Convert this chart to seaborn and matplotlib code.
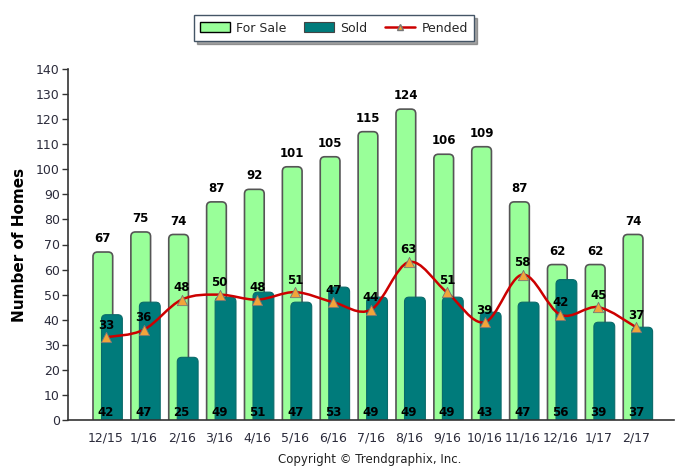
import numpy as np
import pandas as pd
import matplotlib
matplotlib.use("Agg")
import matplotlib.pyplot as plt
import seaborn as sns
from matplotlib.path import Path
from matplotlib.patches import PathPatch, Patch, FancyBboxPatch
from matplotlib.lines import Line2D

months = ["12/15", "1/16", "2/16", "3/16", "4/16", "5/16", "6/16", "7/16",
          "8/16", "9/16", "10/16", "11/16", "12/16", "1/17", "2/17"]
for_sale = [67, 75, 74, 87, 92, 101, 105, 115, 124, 106, 109, 87, 62, 62, 74]
sold = [42, 47, 25, 49, 51, 47, 53, 49, 49, 49, 43, 47, 56, 39, 37]
pended = [33, 36, 48, 50, 48, 51, 47, 44, 63, 51, 39, 58, 42, 45, 37]

sns.set_theme(style="white")
plt.rcParams['font.family'] = ['DejaVu Sans']

GREEN = "#99FF99"
TEAL = "#007B7B"
RED = "#CC0000"
ORANGE = "#F2A43A"
TXT = "#2B2B3B"

fig = plt.figure(figsize=(6.88, 4.72), dpi=100)
ax = fig.add_axes([68/688, 1-420/472, (674-68)/688, (420-69)/472])

df = pd.DataFrame({"month": months, "for_sale": for_sale, "sold": sold, "pended": pended})
df["pos"] = np.arange(len(months))

sns.barplot(data=df, x="month", y="for_sale", ax=ax, color=GREEN, width=0.52,
            edgecolor="#555555", linewidth=1.2, saturation=1)
n_fs = len(ax.patches)
sns.barplot(data=df, x="month", y="sold", ax=ax, color=TEAL, width=0.55,
            edgecolor="#0A6A6A", linewidth=0.8, saturation=1)

# round the tops of the bars
aspect = (140 / 351) / (1 / 37.9)
bars = list(ax.patches)
for k, p in enumerate(bars):
    shift = -0.08 if k < n_fs else 0.16
    x, w, h = p.get_x() + shift, p.get_width(), p.get_height()
    fb = FancyBboxPatch((x, -4), w, h + 4,
                        boxstyle="round,pad=0,rounding_size=0.12",
                        mutation_aspect=aspect,
                        facecolor=p.get_facecolor(), edgecolor=p.get_edgecolor(),
                        linewidth=p.get_linewidth(), zorder=p.get_zorder() + (0.1 if k >= n_fs else 0))
    p.remove()
    ax.add_patch(fb)

# Smooth pended curve (Catmull-Rom drawn as Bezier path)
xs = df["pos"].to_numpy(dtype=float)
ys = df["pended"].to_numpy(dtype=float)
pts = np.column_stack([xs, ys])
verts = [tuple(pts[0])]
codes = [Path.MOVETO]
n = len(pts)
for i in range(n - 1):
    p0 = pts[i - 1] if i > 0 else pts[i]
    p1 = pts[i]
    p2 = pts[i + 1]
    p3 = pts[i + 2] if i + 2 < n else pts[i + 1]
    c1 = p1 + (p2 - p0) / 6.0
    c2 = p2 - (p3 - p1) / 6.0
    verts += [tuple(c1), tuple(c2), tuple(p2)]
    codes += [Path.CURVE4] * 3
ax.add_patch(PathPatch(Path(verts, codes), facecolor="none", edgecolor=RED, lw=1.8, zorder=4))
sns.scatterplot(data=df, x="pos", y="pended", ax=ax, marker="^", s=55, color=ORANGE,
                edgecolor="#777777", linewidth=0.6, zorder=5, legend=False)

for i in range(len(months)):
    ax.annotate(str(for_sale[i]), (i - 0.08, for_sale[i]), xytext=(0, 5),
                textcoords="offset points", ha="center", va="bottom",
                fontsize=8.5, fontweight="bold", color="black")
    ax.annotate(str(sold[i]), (i, 0), xytext=(0, 1),
                textcoords="offset points", ha="center", va="bottom",
                fontsize=8.5, fontweight="bold", color="black", zorder=6)
    ax.annotate(str(pended[i]), (i, pended[i]), xytext=(0, 4),
                textcoords="offset points", ha="center", va="bottom",
                fontsize=8.5, fontweight="bold", color="black", zorder=6)

ax.set_xlim(-1, len(months))
ax.set_ylim(0, 140)
ax.set_yticks(np.arange(0, 141, 10))
ax.set_xticks(np.arange(len(months)))
ax.set_xticklabels(months)
ax.set_xlabel("")
ax.set_ylabel("Number of Homes", fontsize=11, fontweight="bold", color="black", labelpad=6)
ax.tick_params(axis="y", which="major", left=True, length=4, width=1, color="#333333",
               labelsize=9, labelcolor=TXT, pad=2)
ax.tick_params(axis="x", bottom=False, labelsize=9, labelcolor=TXT, pad=2)
for s in ["top", "right"]:
    ax.spines[s].set_visible(False)
for s in ["left", "bottom"]:
    ax.spines[s].set_color("#333333")
    ax.spines[s].set_linewidth(1.2)
    ax.spines[s].set_zorder(7)

handles = [Patch(facecolor=GREEN, edgecolor="black", linewidth=1.0, label="For Sale"),
           Patch(facecolor=TEAL, edgecolor="#444444", linewidth=0.8, label="Sold"),
           Line2D([0], [0], color=RED, lw=1.8, marker="^", markersize=5,
                  markerfacecolor=ORANGE, markeredgecolor="#777777", label="Pended")]
leg = fig.legend(handles=handles, loc="center", bbox_to_anchor=(334/688, 1-28/472), ncol=3,
                 frameon=True, fancybox=False, shadow=True, fontsize=9,
                 handlelength=2.4, handleheight=0.9, columnspacing=1.4, borderpad=0.5,
                 handletextpad=0.5)
leg.get_frame().set_edgecolor("#445566")
leg.get_frame().set_linewidth(1.0)

fig.text(370/688, 1-460/472, "Copyright \u00a9 Trendgraphix, Inc.", ha="center", va="center",
         fontsize=8.5, color="#222222")

fig.savefig("out.png", dpi=100)
